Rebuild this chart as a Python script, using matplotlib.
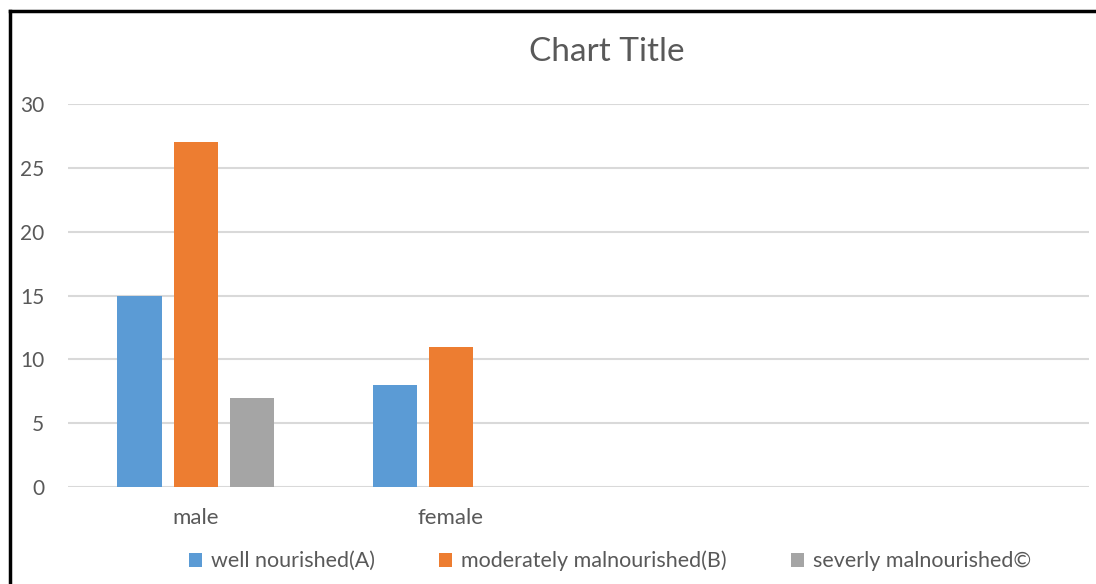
import numpy as np
import matplotlib
matplotlib.use("Agg")
import matplotlib.pyplot as plt
from matplotlib.lines import Line2D

categories = ["male", "female", "", ""]
series_names = ["well nourished(A)", "moderately malnourished(B)", "severly malnourished©"]
well = [15, 8, np.nan, np.nan]
moderate = [27, 11, np.nan, np.nan]
severe = [7, np.nan, np.nan, np.nan]
colors = ["#5B9BD5", "#ED7D31", "#A5A5A5"]
yticks = [0, 5, 10, 15, 20, 25, 30]

plt.rcParams['font.family'] = ['Lato', 'DejaVu Sans']

fig = plt.figure(figsize=(10.96, 5.84), dpi=100)
ax = fig.add_axes([68/1096, 1-487/584, (1089-68)/1096, (487-104)/584])

x = np.arange(len(categories))
w = 0.173
step = 0.22
for i, (vals, c, name) in enumerate(zip([well, moderate, severe], colors, series_names)):
    ax.bar(x + (i-1)*step, vals, width=w, color=c, label=name, zorder=3)

ax.set_xlim(-0.5, len(categories)-0.5)
ax.set_ylim(0, 30)
ax.set_yticks(yticks)
ax.set_yticklabels([str(t) for t in yticks], fontsize=15, color="#595959")
ax.set_xticks(x)
ax.set_xticklabels(categories, fontsize=16, color="#595959")
ax.tick_params(axis='both', length=0)
ax.tick_params(axis='y', pad=17)
ax.tick_params(axis='x', pad=15)
for s in ax.spines.values():
    s.set_visible(False)
ax.grid(axis='y', color="#d9d9d9", linewidth=1.5, zorder=0)
ax.set_axisbelow(True)

fig.text(607/1096, 1-52/584, "Chart Title", ha='center', va='center', fontsize=24, color="#595959")

leg = fig.legend(loc='center', bbox_to_anchor=(610/1096, 1-561/584), ncol=3, frameon=False,
                 fontsize=15.5, handlelength=0.6, handleheight=0.6, handletextpad=0.4,
                 columnspacing=3.0, labelcolor="#595959")

fig.add_artist(Line2D([10/1096, 1.0], [1-11/584, 1-11/584], color='black', linewidth=2.5, transform=fig.transFigure))
fig.add_artist(Line2D([10/1096, 10/1096], [0, 1-11/584], color='black', linewidth=2.5, transform=fig.transFigure))

fig.savefig("out.png", dpi=100)
